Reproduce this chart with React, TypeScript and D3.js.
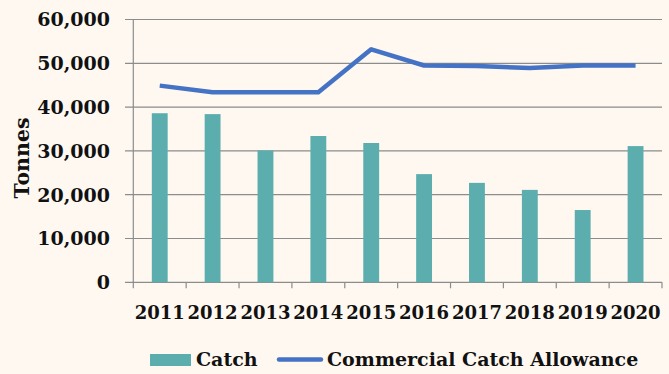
import React from "react";
import * as d3 from "d3";

const years = ["2011", "2012", "2013", "2014", "2015", "2016", "2017", "2018", "2019", "2020"];
const catchValues = [38600, 38400, 30100, 33400, 31800, 24700, 22700, 21100, 16500, 31100];
const allowanceValues = [44900, 43400, 43400, 43400, 53200, 49500, 49400, 48900, 49500, 49500];
const yTicks = [0, 10000, 20000, 30000, 40000, 50000, 60000];

const W = 669;
const H = 374;
const left = 133.3;
const right = 662;
const top = 19.5;
const bottom = 282.3;
const bg = "#FEF8F1";
const barColor = "#5BAEAD";
const lineColor = "#4472C4";
const gridColor = "#8C8C8C";
const font = "'DejaVu Serif', serif";

export default function App() {
  const x = d3.scaleBand<string>().domain(years).range([left, right]).paddingInner(0).paddingOuter(0);
  const y = d3.scaleLinear().domain([0, 60000]).range([bottom, top]);
  const bw = x.bandwidth() * 0.3;
  const fmt = d3.format(",");
  const line = d3
    .line<number>()
    .x((_, i) => (x(years[i]) as number) + x.bandwidth() / 2)
    .y((d) => y(d));

  return (
    <svg
      width={W}
      height={H}
      style={{ position: "absolute", left: 0, top: 0, background: bg }}
    >
      <rect x={0} y={0} width={W} height={H} fill={bg} />
      {yTicks.map((t) => (
        <g key={t}>
          <line x1={125} x2={right} y1={y(t)} y2={y(t)} stroke={gridColor} strokeWidth={1.2} />
          <text
            x={110}
            y={y(t)}
            dy="0.36em"
            textAnchor="end"
            fontFamily={font}
            fontWeight="bold"
            fontSize={19}
            fill="#111"
          >
            {fmt(t)}
          </text>
        </g>
      ))}
      <line x1={left} x2={left} y1={top} y2={bottom + 6} stroke={gridColor} strokeWidth={1.2} />
      {years.map((yr) => (
        <line
          key={"t" + yr}
          x1={(x(yr) as number) + x.bandwidth()}
          x2={(x(yr) as number) + x.bandwidth()}
          y1={bottom}
          y2={bottom + 6}
          stroke={gridColor}
          strokeWidth={1.2}
        />
      ))}
      {catchValues.map((v, i) => (
        <rect
          key={"b" + i}
          x={(x(years[i]) as number) + (x.bandwidth() - bw) / 2}
          y={y(v)}
          width={bw}
          height={bottom - y(v)}
          fill={barColor}
        />
      ))}
      <path d={line(allowanceValues) || ""} fill="none" stroke={lineColor} strokeWidth={4.5} strokeLinejoin="round" />
      {years.map((yr) => (
        <text
          key={"l" + yr}
          x={(x(yr) as number) + x.bandwidth() / 2}
          y={319}
          textAnchor="middle"
          fontFamily={font}
          fontWeight="bold"
          fontSize={18}
          fill="#111"
        >
          {yr}
        </text>
      ))}
      <text
        transform="translate(29,158) rotate(-90)"
        textAnchor="middle"
        fontFamily={font}
        fontWeight="bold"
        fontSize={20.5}
        fill="#111"
      >
        Tonnes
      </text>
      <rect x={150} y={354} width={41} height={12} fill={barColor} />
      <text x={196} y={366} fontFamily={font} fontWeight="bold" fontSize={19} fill="#111">
        Catch
      </text>
      <line x1={279} x2={321} y1={359.5} y2={359.5} stroke={lineColor} strokeWidth={4.5} strokeLinecap="round" />
      <text x={327} y={366} fontFamily={font} fontWeight="bold" fontSize={19} fill="#111">
        Commercial Catch Allowance
      </text>
    </svg>
  );
}
